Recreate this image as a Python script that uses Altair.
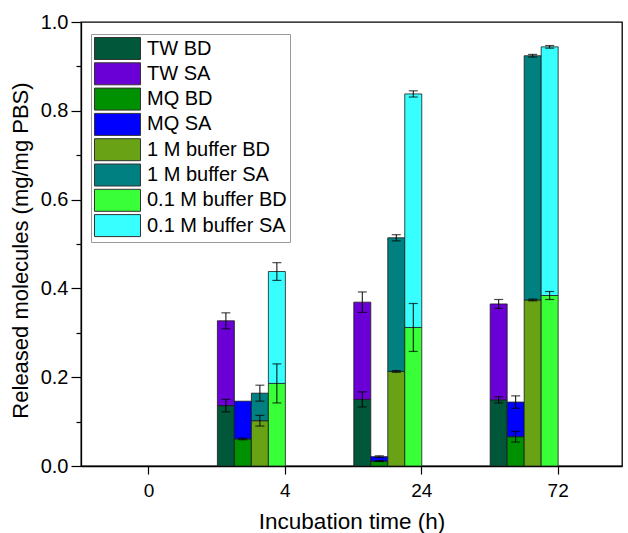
import altair as alt
import pandas as pd

times = ["0", "4", "24", "72"]
conditions = ["TW", "MQ", "1 M buffer", "0.1 M buffer"]
components = ["BD", "SA"]

# stacked segment heights (mg/mg PBS) at 0, 4, 24, 72 h
tw_bd = [0, 0.136, 0.150, 0.149]
tw_sa = [0, 0.191, 0.219, 0.216]
mq_bd = [0, 0.061, 0.011, 0.066]
mq_sa = [0, 0.085, 0.010, 0.078]
m1_bd = [0, 0.102, 0.213, 0.374]
m1_sa = [0, 0.062, 0.301, 0.550]
m01_bd = [0, 0.186, 0.312, 0.384]
m01_sa = [0, 0.252, 0.526, 0.560]

# error (+/-) at the top of each segment
tw_bd_err = [0, 0.014, 0.017, 0.007]
tw_sa_err = [0, 0.018, 0.023, 0.010]
mq_bd_err = [0, 0.002, 0.001, 0.012]
mq_sa_err = [0, 0.0, 0.002, 0.014]
m1_bd_err = [0, 0.012, 0.002, 0.002]
m1_sa_err = [0, 0.018, 0.007, 0.003]
m01_bd_err = [0, 0.044, 0.054, 0.009]
m01_sa_err = [0, 0.020, 0.007, 0.003]

series_names = ["TW BD", "TW SA", "MQ BD", "MQ SA",
                "1 M buffer BD", "1 M buffer SA", "0.1 M buffer BD", "0.1 M buffer SA"]
series_colors = ["#00573a", "#6a00d6", "#009100", "#0000ff",
                 "#69a315", "#008080", "#38ff38", "#38ffff"]

y_major = [0.0, 0.2, 0.4, 0.6, 0.8, 1.0]
y_minor = [0.1, 0.3, 0.5, 0.7, 0.9]

values = {
    ("TW", "BD"): (tw_bd, tw_bd_err), ("TW", "SA"): (tw_sa, tw_sa_err),
    ("MQ", "BD"): (mq_bd, mq_bd_err), ("MQ", "SA"): (mq_sa, mq_sa_err),
    ("1 M buffer", "BD"): (m1_bd, m1_bd_err), ("1 M buffer", "SA"): (m1_sa, m1_sa_err),
    ("0.1 M buffer", "BD"): (m01_bd, m01_bd_err), ("0.1 M buffer", "SA"): (m01_sa, m01_sa_err),
}

rows = []
for (cond, comp), (vals, errs) in values.items():
    for t, v, e in zip(times, vals, errs):
        rows.append({"time": t, "condition": cond, "component": comp,
                     "series": f"{cond} {comp}", "value": v, "err": e,
                     "order": components.index(comp)})
df = pd.DataFrame(rows)
minor_df = pd.DataFrame({"v": y_minor})

FONT = "Liberation Sans"

x_enc = alt.X("time:N", sort=times,
              scale=alt.Scale(domain=times, paddingInner=0.5015, paddingOuter=0.234, align=0),
              axis=alt.Axis(title="Incubation time (h)", bandPosition=1, labelOffset=34,
                            labelAngle=0, tickSize=8, labelPadding=7, labelFontSize=19,
                            titleFontSize=22.5, titleY=62, titleBaseline="alphabetic",
                            grid=False))
xo_enc = alt.XOffset("condition:N", scale=alt.Scale(domain=conditions, paddingInner=0, paddingOuter=0))
yscale = alt.Scale(domain=[0, 1], nice=False, zero=True)

base = (alt.Chart(df)
        .transform_filter("datum.value > 0")
        .transform_stack(stack="value", groupby=["time", "condition"], as_=["y0", "y1"],
                         sort=[alt.SortField("order", order="ascending")])
        .transform_calculate(lo="datum.y1 - datum.err", hi="datum.y1 + datum.err"))

bars = base.mark_bar(stroke="#1a1a1a", strokeWidth=0.8).encode(
    x=x_enc, xOffset=xo_enc,
    y=alt.Y("y0:Q", scale=yscale,
            axis=alt.Axis(title="Released molecules (mg/mg PBS)", values=y_major, format=".1f",
                          tickSize=10, labelPadding=3, labelFontSize=20, titleFontSize=22,
                          titleX=-54, titleY=228, titleAngle=270, titleAlign="center",
                          titleBaseline="alphabetic", grid=False, orient="left")),
    y2="y1:Q",
    color=alt.Color("series:N", scale=alt.Scale(domain=series_names, range=series_colors),
                    legend=alt.Legend(title=None, orient="none", legendX=10, legendY=12,
                                      symbolType="M-2.09,-1H2.09V1H-2.09Z", symbolSize=484,
                                      symbolStrokeColor="#333333", symbolStrokeWidth=1,
                                      symbolOffset=12, labelOffset=18, labelFontSize=20,
                                      labelFont=FONT, labelColor="black", rowPadding=-1.7,
                                      padding=3, strokeColor="#9a9a9a", fillColor="white",
                                      symbolOpacity=1, labelLimit=300)),
)

errs = base.transform_filter("datum.err > 0")
rules = errs.mark_rule(color="black", strokeWidth=1).encode(
    x=x_enc, xOffset=xo_enc,
    y=alt.Y("lo:Q", scale=yscale, axis=None), y2="hi:Q")
caps_lo = errs.mark_tick(color="black", thickness=1.2, size=9, orient="horizontal").encode(
    x=x_enc, xOffset=xo_enc, y=alt.Y("lo:Q", scale=yscale, axis=None))
caps_hi = errs.mark_tick(color="black", thickness=1.2, size=9, orient="horizontal").encode(
    x=x_enc, xOffset=xo_enc, y=alt.Y("hi:Q", scale=yscale, axis=None))

minor = alt.Chart(minor_df).mark_point(opacity=0).encode(
    y=alt.Y("v:Q", scale=yscale,
            axis=alt.Axis(values=y_minor, labels=False, tickSize=5, domain=False,
                          title=None, grid=False, orient="left")))

chart = (alt.layer(bars, rules, caps_lo, caps_hi, minor)
         .resolve_axis(y="independent")
         .properties(width=541, height=444,
                     autosize=alt.AutoSizeParams(type="none"),
                     padding={"left": 81, "top": 22, "right": 6, "bottom": 67})
         .configure_view(stroke="black", strokeWidth=1.3)
         .configure_axis(labelFont=FONT, titleFont=FONT, titleFontWeight="normal",
                         labelColor="black", titleColor="black", domainColor="black",
                         tickColor="black", domainWidth=1.3, tickWidth=1.2))

chart.save("out.html", embed_options={"renderer": "svg", "actions": False})
